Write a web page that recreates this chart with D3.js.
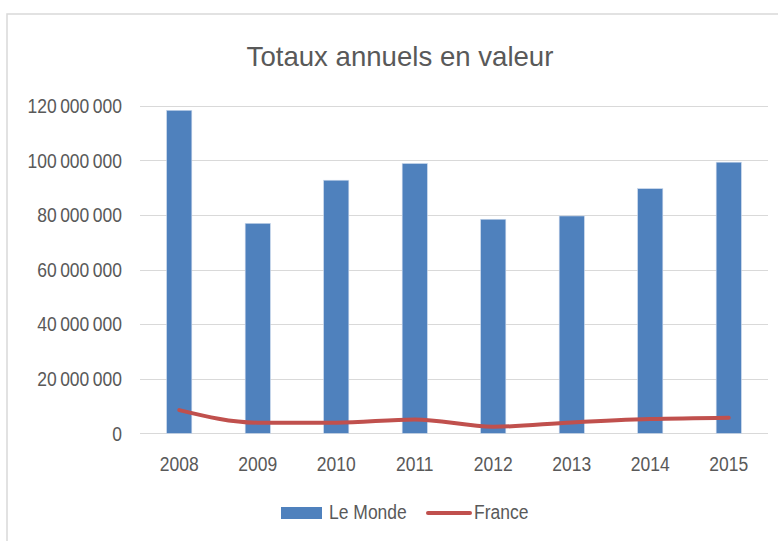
<!DOCTYPE html>
<html><head><meta charset="utf-8">
<script src="https://cdn.jsdelivr.net/npm/d3@7"></script>
<style>body{margin:0;background:#fff}svg{display:block}</style>
</head><body>
<script>
const years = ["2008","2009","2010","2011","2012","2013","2014","2015"];
const leMonde = [118300000, 76900000, 92700000, 98800000, 78400000, 79600000, 89600000, 99300000];
const france = [8500000, 3900000, 3900000, 5100000, 2400000, 4000000, 5200000, 5700000];
const yTicks = [0, 20000000, 40000000, 60000000, 80000000, 100000000, 120000000];
const title = "Totaux annuels en valeur";
const seriesNames = ["Le Monde", "France"];

(function () {
const W = 778, H = 541;
const FONT = "'Liberation Sans',Arial,sans-serif";
const FS = 17.5, SY = 1.15;
const svg = d3.select("body").append("svg").attr("width", W).attr("height", H);

svg.append("rect").attr("x", 7).attr("y", 14).attr("width", 820).attr("height", 600)
  .attr("fill", "#fff").attr("stroke", "#D9D9D9").attr("stroke-width", 1.5);

const pLeft = 140, pRight = 768, pTop = 105.7, pBottom = 433.3;
const x = d3.scaleBand().domain(years).range([pLeft, pRight]).paddingInner(0.68).paddingOuter(0.34);
const y = d3.scaleLinear().domain([0, 120000000]).range([pBottom, pTop]);

svg.append("text").attr("x", 400).attr("y", 65.5).attr("text-anchor", "middle")
  .attr("font-family", FONT).attr("font-size", 27.6).attr("fill", "#595959").text(title);

const fmt = v => d3.format(",")(v).replace(/,/g, "\u2009");

svg.append("g").selectAll("line").data(yTicks).join("line")
  .attr("x1", pLeft).attr("x2", pRight)
  .attr("y1", d => Math.round(y(d)) + 0.5).attr("y2", d => Math.round(y(d)) + 0.5)
  .attr("stroke", "#D9D9D9").attr("stroke-width", 1.2);

const yAxis = svg.append("g").attr("transform", `translate(${122},0)`)
  .call(d3.axisLeft(y).tickValues(yTicks).tickFormat(fmt).tickSize(0).tickPadding(0));
yAxis.select(".domain").remove();
yAxis.selectAll("text").attr("font-family", FONT).attr("font-size", FS).attr("fill", "#595959")
  .attr("dy", 0).attr("y", 6.8 / SY).attr("transform", `scale(1,${SY})`);

svg.append("g").selectAll("rect").data(leMonde).join("rect")
  .attr("x", (d, i) => x(years[i])).attr("width", x.bandwidth())
  .attr("y", d => y(d)).attr("height", d => y(0) - y(d))
  .attr("fill", "#4F81BD").attr("stroke", "#C6D5EA").attr("stroke-width", 0.6);

const xAxis = svg.append("g").attr("transform", `translate(0,${pBottom})`)
  .call(d3.axisBottom(x).tickSize(0).tickPadding(0));
xAxis.select(".domain").remove();
xAxis.selectAll("text").attr("font-family", FONT).attr("font-size", FS).attr("fill", "#595959")
  .attr("dy", 0).attr("y", 37.4 / SY).attr("transform", `scale(1,${SY})`);

const line = d3.line().x((d, i) => x(years[i]) + x.bandwidth() / 2).y(d => y(d)).curve(d3.curveMonotoneX);
svg.append("path").datum(france).attr("d", line).attr("fill", "none")
  .attr("stroke", "#C0504D").attr("stroke-width", 4).attr("stroke-linecap", "round").attr("stroke-linejoin", "round");

const lg = svg.append("g");
lg.append("rect").attr("x", 281).attr("y", 507).attr("width", 41).attr("height", 12).attr("fill", "#4F81BD");
lg.append("text").attr("transform", `translate(329,519) scale(1,${SY})`).attr("font-family", FONT).attr("font-size", FS).attr("fill", "#595959").text(seriesNames[0]);
lg.append("line").attr("x1", 428).attr("x2", 470).attr("y1", 513).attr("y2", 513)
  .attr("stroke", "#C0504D").attr("stroke-width", 4).attr("stroke-linecap", "round");
lg.append("text").attr("transform", `translate(474,519) scale(1,${SY})`).attr("font-family", FONT).attr("font-size", FS).attr("fill", "#595959").text(seriesNames[1]);
})();
</script>
</body></html>
